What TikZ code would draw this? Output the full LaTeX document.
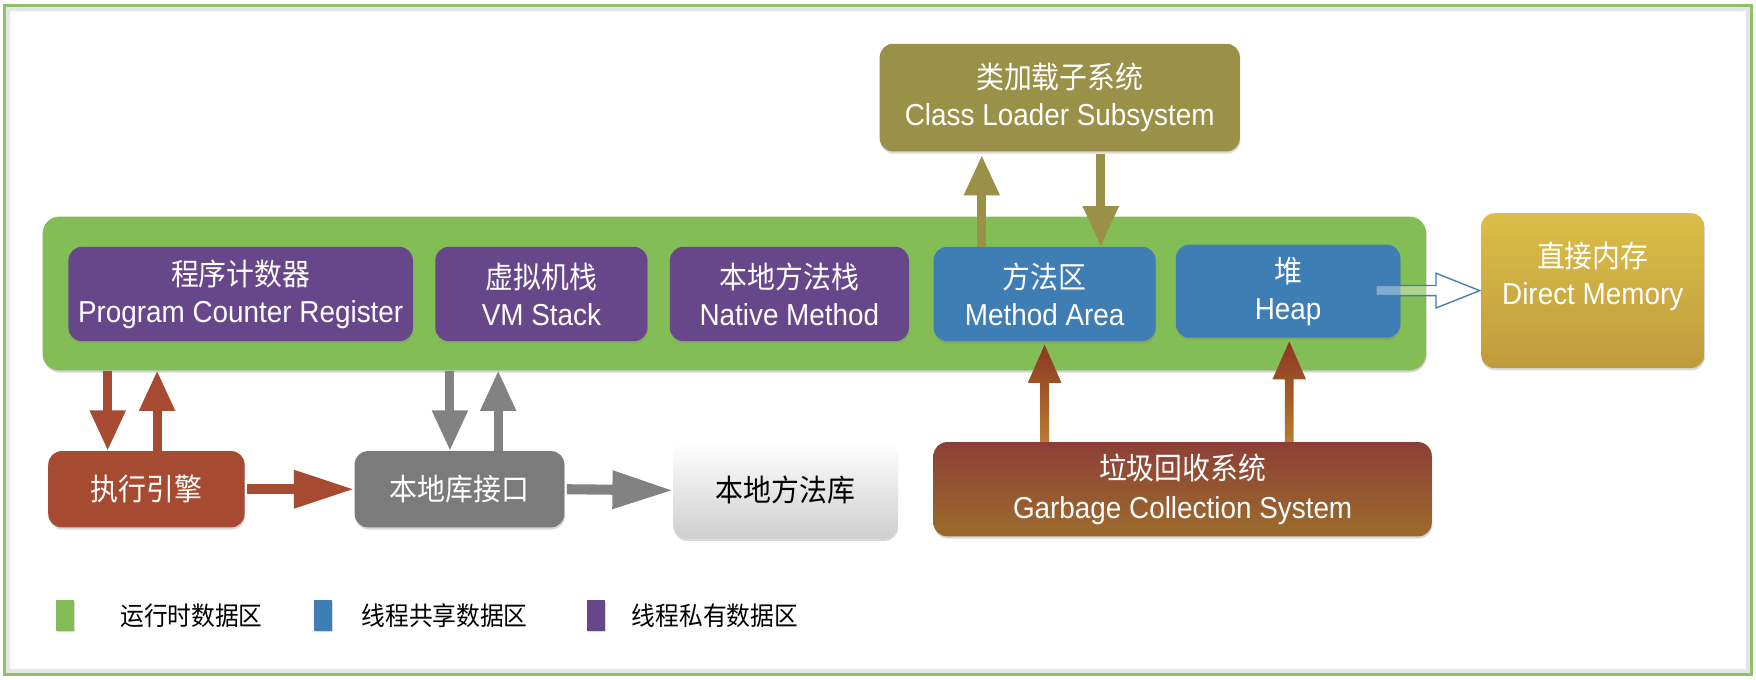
\documentclass[tikz,border=0pt]{standalone}
\usepackage{fontspec}
\setmainfont{Liberation Sans}[FakeStretch=0.92]
\newfontfamily\cjk{Noto Sans CJK SC}[FakeStretch=0.92]
\usetikzlibrary{arrows.meta,shadows,calc}
\definecolor{frameGreen}{HTML}{8DC26B}
\definecolor{rdaGreen}{HTML}{83BD55}
\definecolor{privPurple}{HTML}{674689}
\definecolor{sharedBlue}{HTML}{3F7EB4}
\definecolor{loaderOlive}{HTML}{9B9047}
\definecolor{engineRust}{HTML}{A74A32}
\definecolor{nliGray}{HTML}{7B7B7B}
\definecolor{arrGray}{HTML}{828282}
\definecolor{dmTop}{HTML}{DBBE48}
\definecolor{dmBot}{HTML}{C09B3C}
\definecolor{gcTop}{HTML}{8D3F36}
\definecolor{gcBot}{HTML}{9C6C2C}
\definecolor{gcArrTop}{HTML}{8A3820}
\definecolor{gcArrBot}{HTML}{B97B30}
\definecolor{hollowBlue}{HTML}{3F7EB4}
\tikzset{
  box/.style={rounded corners=12pt, inner sep=0pt, align=center, text=white,
    font=\fontsize{27}{33}\selectfont,
    drop shadow={shadow xshift=0.5pt, shadow yshift=-2pt, opacity=0.3}},
  bigarrow/.style={line width=8pt, -{Triangle[width=30pt,length=36pt]}},
  hbigarrow/.style={line width=9pt, -{Triangle[width=32pt,length=54pt]}},
  legendsq/.style={minimum width=16pt, minimum height=27pt, inner sep=0pt,
    drop shadow={shadow xshift=0.5pt, shadow yshift=-1.5pt, opacity=0.3}},
  legendtxt/.style={anchor=west, inner sep=0pt, font=\fontsize{23}{28}\selectfont\cjk}
}
\begin{document}
\begin{tikzpicture}[x=1pt,y=-1pt]
\useasboundingbox (0,0) rectangle (1565,606);
% outer frame
\draw[black!10, line width=3pt] (7,8) rectangle (1558,598);
\draw[frameGreen, line width=2.5pt] (4,5) rectangle (1561,601);

% runtime data area
\node[box, fill=rdaGreen, rounded corners=15pt, minimum width=1233pt, minimum height=137pt,
  drop shadow={shadow xshift=0pt, shadow yshift=-1pt, opacity=0.15}] (rda) at (654.5,261.5) {};

% private areas
\node[box, fill=privPurple, minimum width=307pt, minimum height=84pt] (pcr) at (214.5,262)
  {{\cjk 程序计数器}\\Program Counter Register};
\node[box, fill=privPurple, minimum width=189pt, minimum height=84pt] (vms) at (482.5,262)
  {{\cjk 虚拟机栈}\\VM Stack};
\node[box, fill=privPurple, minimum width=213pt, minimum height=84pt] (nms) at (703.5,262)
  {{\cjk 本地方法栈}\\Native Method};
% shared areas
\node[box, fill=sharedBlue, minimum width=198pt, minimum height=84pt] (ma) at (931,262)
  {{\cjk 方法区}\\Method Area};
\node[box, fill=sharedBlue, minimum width=200pt, minimum height=83pt] (heap) at (1148,259.5)
  {{\cjk 堆}\\Heap};

% class loader
\node[box, fill=loaderOlive, minimum width=321pt, minimum height=96pt] (cls) at (944.5,87)
  {{\cjk 类加载子系统}\\Class Loader Subsystem};

% direct memory
\node[box, top color=dmTop, bottom color=dmBot, minimum width=199pt, minimum height=138pt] (dm) at (1419.5,259) {};
\node[align=center, text=white, inner sep=0pt, font=\fontsize{27}{33}\selectfont] (dmtext) at (1419.5,246.5)
  {{\cjk 直接内存}\\Direct Memory};

% execution engine etc.
\node[box, fill=engineRust, minimum width=175pt, minimum height=68pt] (ee) at (130.5,436) {\cjk 执行引擎};
\node[box, fill=nliGray, minimum width=187pt, minimum height=68pt] (nli) at (409.5,436) {\cjk 本地库接口};
\node[box, top color=white, bottom color=black!19, text=black, minimum width=200pt, minimum height=86pt] (nml) at (700,437) {\cjk 本地方法库};

% garbage collection
\node[box, top color=gcTop, bottom color=gcBot, minimum width=444pt, minimum height=84pt] (gc) at (1054,436)
  {{\cjk 垃圾回收系统}\\[2pt]Garbage Collection System};

% arrows: program counter <-> execution engine
\draw[bigarrow, engineRust] (96,0 |- rda.south) -- (96,0 |- ee.north);
\draw[bigarrow, engineRust] (140,0 |- ee.north) -- (140,0 |- rda.south);
% VM stack <-> native interface
\draw[bigarrow, arrGray] (401,0 |- rda.south) -- (401,0 |- nli.north);
\draw[bigarrow, arrGray] (444,0 |- nli.north) -- (444,0 |- rda.south);
% horizontal
\draw[hbigarrow, engineRust, shorten <=2pt] (ee.east) -- (nli.west);
\draw[hbigarrow, arrGray, shorten <=2pt] (nli.east) -- (nml.west);
% class loader <-> method area
\draw[bigarrow, loaderOlive] (875,0 |- ma.north) -- ([yshift=-3pt]875,0 |- cls.south);
\draw[bigarrow, loaderOlive] ([yshift=-2pt]981,0 |- cls.south) -- (981,0 |- ma.north);

% GC arrows (shaded)
\foreach \xx/\tgt in {931/ma, 1149/heap} {
  \shade[top color=gcArrTop, bottom color=gcArrBot]
    let \p1=(\xx,0 |- gc.north), \p2=(\xx,0 |- \tgt.south) in
    (\x1-4pt,\y1) -- (\x1-4pt,\y2-37pt) -- (\x1-15pt,\y2-37pt) -- (\x1,\y2-3pt)
    -- (\x1+15pt,\y2-37pt) -- (\x1+4pt,\y2-37pt) -- (\x1+4pt,\y1) -- cycle;
}

% hollow arrow heap -> direct memory
\draw[hollowBlue, line width=1.2pt, fill=white, fill opacity=0.35]
  let \p1=(dm.west), \p2=(heap.east) in
  (\x2-22pt,\y1+4.5pt) -- (\x1-40pt,\y1+4.5pt) -- (\x1-40pt,\y1+15.5pt) -- (\x1-1pt,\y1)
  -- (\x1-40pt,\y1-15.5pt) -- (\x1-40pt,\y1-4.5pt) -- (\x2-22pt,\y1-4.5pt) -- cycle;

% legend
\node[legendsq, fill=rdaGreen] (lg1) at (58,548.5) {};
\node[legendtxt] (lt1) at (107,549) {运行时数据区};
\node[legendsq, fill=sharedBlue] (lg2) at (288,548.5) {};
\node[legendtxt] (lt2) at (322,549) {线程共享数据区};
\node[legendsq, fill=privPurple] (lg3) at (531.5,548.5) {};
\node[legendtxt] (lt3) at (563,549) {线程私有数据区};
\end{tikzpicture}
\end{document}
